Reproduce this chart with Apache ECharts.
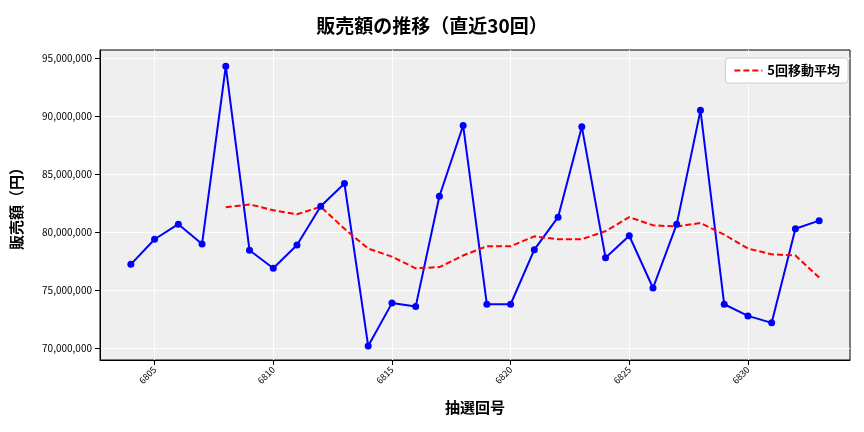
<!DOCTYPE html>
<html><head><meta charset="utf-8">
<script src="https://cdn.jsdelivr.net/npm/echarts@6/dist/echarts.min.js"></script>
<style>body{margin:0}#c{width:864px;height:432px}</style>
</head><body><div id="c"></div>
<script>
// 抽選回号
var draws = [6804,6805,6806,6807,6808,6809,6810,6811,6812,6813,6814,6815,6816,6817,6818,6819,6820,6821,6822,6823,6824,6825,6826,6827,6828,6829,6830,6831,6832,6833];
// 販売額 (円)
var sales = [77240000,79400000,80700000,79000000,94300000,78450000,76900000,78900000,82240000,84200000,70200000,73900000,73600000,83100000,89200000,73800000,73800000,78500000,81300000,89100000,77800000,79700000,75200000,80700000,90500000,73800000,72800000,72200000,80300000,81000000];
// 5回移動平均 (6808から)
var maDraws = [6808,6809,6810,6811,6812,6813,6814,6815,6816,6817,6818,6819,6820,6821,6822,6823,6824,6825,6826,6827,6828,6829,6830,6831,6832,6833];
var ma = [82150000,82400000,81900000,81550000,82200000,80300000,78600000,77900000,76900000,77000000,78000000,78800000,78800000,79650000,79400000,79400000,80100000,81300000,80600000,80500000,80800000,79800000,78600000,78100000,78000000,76100000];
var xTicks = [6805,6810,6815,6820,6825,6830];
var yTicks = [70000000,75000000,80000000,85000000,90000000,95000000];

var font = '"Noto Sans CJK JP", sans-serif';
var chart = echarts.init(document.getElementById('c'));
chart.setOption({
    textStyle: { fontFamily: font },
    title: { text: '販売額の推移（直近30回）', left: 'center', top: 11,
        textStyle: { fontSize: 19, fontWeight: 'bold', color: '#000', fontFamily: font } },
    legend: { right: 16, top: 58, data: ['5回移動平均'], itemWidth: 28, itemHeight: 2,
        backgroundColor: '#fff', borderColor: '#ccc', borderWidth: 1, borderRadius: 3, padding: [6, 8],
        textStyle: { fontSize: 13, color: '#000', fontWeight: 'bold' } },
    grid: { left: 100, right: 14, top: 50, bottom: 72, show: true, backgroundColor: '#efefef',
        borderWidth: 1, borderColor: '#000' },
    xAxis: {
        type: 'value', min: 6802.7, max: 6834.3,
        name: '抽選回号', nameLocation: 'middle', nameGap: 40,
        nameTextStyle: { fontSize: 15, color: '#000', fontWeight: 'bold' },
        axisLine: { show: true, lineStyle: { color: '#000' } },
        axisTick: { show: true, customValues: xTicks, lineStyle: { color: '#000' } },
        axisLabel: { customValues: xTicks, rotate: 45, fontSize: 9, color: '#000',
            formatter: function (v) { return String(v); } },
        splitLine: { show: true, lineStyle: { color: '#fff', width: 1 } }
    },
    yAxis: {
        type: 'value', min: 69000000, max: 95700000,
        name: '販売額（円）', nameLocation: 'middle', nameGap: 76,
        nameTextStyle: { fontSize: 15, color: '#000', fontWeight: 'bold' },
        axisLine: { show: true, lineStyle: { color: '#000' } },
        axisTick: { show: true, customValues: yTicks, lineStyle: { color: '#000' } },
        axisLabel: { customValues: yTicks, fontSize: 10, color: '#000',
            formatter: function (v) { return v.toLocaleString('en-US'); } },
        splitLine: { show: true, lineStyle: { color: '#fff', width: 1 } }
    },
    series: [{
        name: '販売額', type: 'line',
        data: draws.map(function (d, i) { return [d, sales[i]]; }),
        symbol: 'circle', symbolSize: 7,
        lineStyle: { color: '#0000ff', width: 2 }, itemStyle: { color: '#0000ff' }
    }, {
        name: '5回移動平均', type: 'line',
        data: maDraws.map(function (d, i) { return [d, ma[i]]; }),
        symbol: 'none',
        lineStyle: { color: '#ff0000', width: 2, type: [6, 3] }, itemStyle: { color: '#ff0000' }
    }]
});
</script></body></html>
